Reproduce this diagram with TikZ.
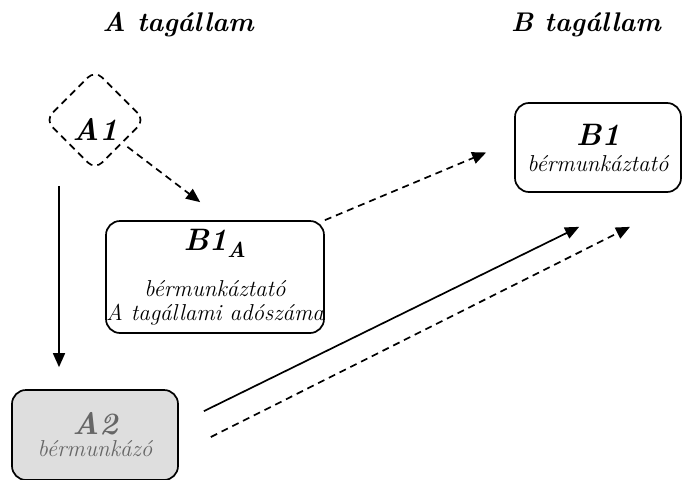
\documentclass[tikz,border=0pt]{standalone}
\usetikzlibrary{shapes.geometric,arrows.meta}
\newcommand{\entname}{\fontsize{31}{34}\selectfont\bfseries\itshape}
\begin{document}
\begin{tikzpicture}[
    x = 1pt, y = -1pt,
    every node/.style = {font=\fontsize{23}{26}\selectfont\itshape},
    statetitle/.style = {font=\fontsize{27}{30}\selectfont\bfseries\itshape},
    entity/.style = {draw, line width=1.7pt, rounded corners=14pt, align=center, inner sep=0pt},
    flow/.style = {line width=1.7pt, -{Triangle[width=12pt,length=14pt]}},
    dashflow/.style = {flow, dash pattern=on 7pt off 5pt}
]
    \clip (0,0) rectangle (682,479);
    \node[statetitle] (titleA) at (178,25) {A tagállam};
    \node[statetitle] (titleB) at (586,25) {B tagállam};
    \node[draw, dash pattern=on 7pt off 5pt, line width=1.7pt, shape=diamond, minimum size=100pt,
        rounded corners=10pt, text height=40pt, font=\entname] (A1) at (95,120) {A1};
    \node[entity, minimum width=216pt, minimum height=112pt] (B1A) at (215,277)
        {{\entname B1\textsubscript{A}}\\[20pt]bérmunkáztató\\[-2pt]A tagállami adószáma};
    \node[entity, minimum width=166pt, minimum height=89pt] (B1) at (598,147.5)
        {{\entname B1}\\[0pt]bérmunkáztató};
    \node[entity, fill=black!13, text=black!60, minimum width=166pt, minimum height=90pt] (A2) at (95,435)
        {{\entname A2}\\[-4pt]bérmunkázó};

    \draw[flow] ([shift={(-36,15)}]A1.south) -- ([shift={(-36,-22)}]A2.north);
    \draw[dashflow, shorten <=6pt] (A1.-40) -- ([shift={(95,-18)}]B1A.north west);
    \draw[dashflow] (B1A.north east) -- ([shift={(-28,5)}]B1.west);
    \draw[flow] ([shift={(25,22)}]A2.north east) -- ([shift={(65,34)}]B1.south west);
    \draw[dashflow] ([shift={(32,2)}]A2.east) -- ([shift={(32,34)}]B1.south);
\end{tikzpicture}
\end{document}
